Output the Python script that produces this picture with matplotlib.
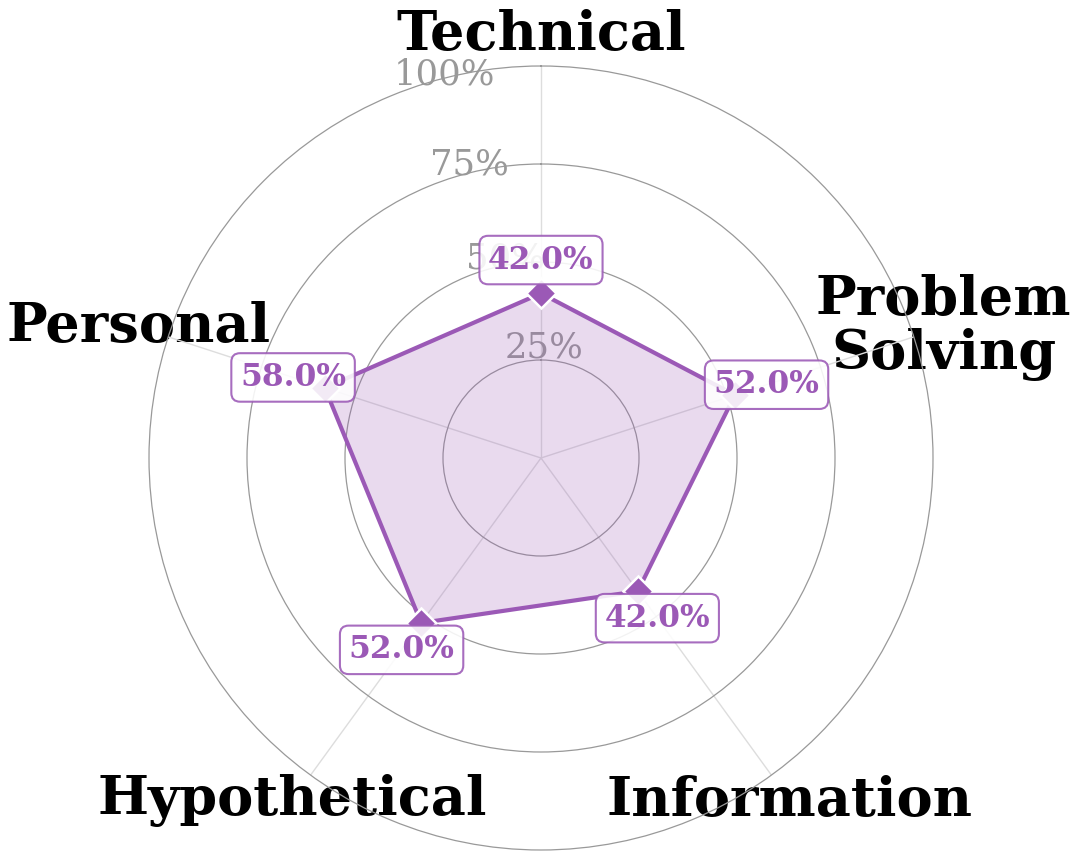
import numpy as np
import matplotlib
matplotlib.use("Agg")
import matplotlib.pyplot as plt

# data
categories = ["Technical", "Problem\nSolving", "Information", "Hypothetical", "Personal"]
values = [42.0, 52.0, 42.0, 52.0, 58.0]
rticks = [25, 50, 75, 100]
rtick_labels = ["25%", "50%", "75%", "100%"]

purple = "#9b59b6"

n = len(categories)
angles = np.linspace(0, 2 * np.pi, n, endpoint=False)
angles_closed = np.concatenate([angles, angles[:1]])
values_closed = values + values[:1]

fig = plt.figure(figsize=(10.8, 8.6), dpi=100)
ax = fig.add_axes([149 / 1080, 10 / 860, 784 / 1080, 784 / 860], projection="polar")
ax.set_theta_zero_location("N")
ax.set_theta_direction(-1)
ax.set_ylim(0, 100)

# grid: circles + spokes (outer circle is the spine)
ax.set_yticks(rticks[:-1])
ax.set_yticklabels([])
ax.set_xticks(angles)
ax.set_xticklabels([])
ax.tick_params(axis="both", length=0)
ax.yaxis.grid(True, color="#999999", linewidth=0.9)
ax.xaxis.grid(True, color="#dddddd", linewidth=1.0)
ax.spines["polar"].set_color("#999999")
ax.spines["polar"].set_linewidth(0.9)

# radial labels (placed by hand, slightly left of the top spoke)
rlabel_pos = [(1.5, 28.3), (-10.2, 51.8), (-13.8, 77.0), (-14.2, 100.8)]
for (ang, rr), lab in zip(rlabel_pos, rtick_labels):
    ax.text(np.deg2rad(ang), rr, lab, ha="center", va="center",
            fontsize=25.5, family="DejaVu Serif", color="#999999", zorder=2)

# polygon
ax.fill(angles_closed, values_closed, color=purple, alpha=0.22, zorder=3)
ax.plot(angles_closed, values_closed, color=purple, linewidth=3.0, zorder=4)
ax.plot(angles, values, linestyle="none", marker="D", markersize=15,
        color=purple, markeredgecolor="white", markeredgewidth=1.8, zorder=5)

# value labels
for a, v in zip(angles, values):
    ax.text(a, v + 8.5, f"{v:.1f}%", ha="center", va="center",
            fontsize=22.5, fontweight="bold", family="DejaVu Serif", color=purple,
            zorder=6,
            bbox=dict(boxstyle="round,pad=0.28", facecolor="white", alpha=0.88,
                      edgecolor=purple, linewidth=1.5))

# category labels
for a, c in zip(angles, categories):
    ax.text(a, 108, c, ha="center", va="center", fontsize=39,
            fontweight="bold", family="DejaVu Serif", color="black",
            linespacing=1.05, zorder=1)

fig.savefig("out.png", dpi=100)
